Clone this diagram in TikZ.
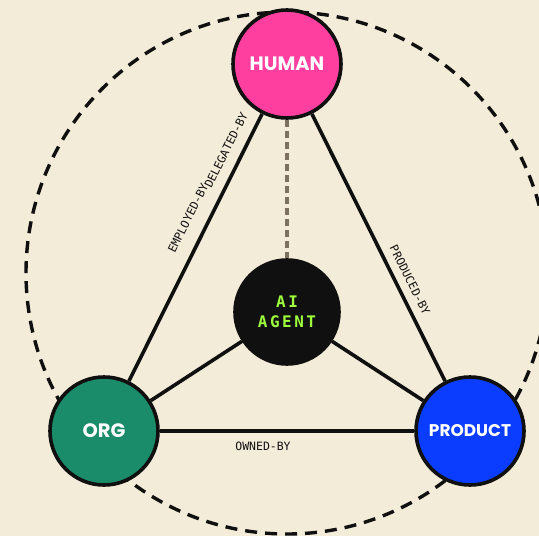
\documentclass[tikz,border=0pt]{standalone}
\usepackage{fontspec}
\setmainfont{DejaVu Sans}
\setmonofont{DejaVu Sans Mono}
\newfontfamily\headfont{Poppins}
\usetikzlibrary{calc}

\definecolor{paper}{HTML}{F3ECD9}
\definecolor{ink}{HTML}{111010}
\definecolor{humanpink}{HTML}{FF3FA0}
\definecolor{orggreen}{HTML}{1A8C69}
\definecolor{prodblue}{HTML}{0A3DFF}
\definecolor{agentlime}{HTML}{9DFC3C}
\definecolor{linkgray}{HTML}{7D7262}

\tikzset{
  entity/.style={circle, draw=ink, line width=3.6bp, minimum size=108bp, inner sep=0pt,
    text=white, font=\headfont\bfseries\fontsize{19.5}{20}\selectfont},
  link/.style={draw=ink, line width=3.6bp},
  edgelabel/.style={font=\ttfamily\fontsize{11.5}{13}\selectfont, text=ink}
}

\begin{document}
\begin{tikzpicture}[x=1bp, y=-1bp]
      % background
      \fill[paper] (0,0) rectangle (539,536);
      \useasboundingbox (0,0) rectangle (539,536);
      \clip (0,0) rectangle (539,536);
      % outer ring
      \draw[ink, line width=3.4bp, dash pattern=on 12bp off 8bp] (287,273) circle (261);
      % entities
      \node[entity, fill=humanpink] (human) at (287,64) {HUMAN};
      \node[entity, fill=orggreen] (org) at (104,431) {ORG};
      \node[entity, fill=prodblue, font=\headfont\bfseries\fontsize{17}{18}\selectfont] (product) at (470,431) {PRODUCT};
      \node[entity, fill=ink, minimum size=104bp, text=agentlime, align=center,
        font=\ttfamily\bfseries\fontsize{16}{20}\selectfont\addfontfeature{LetterSpace=16}] (agent) at (287,312) {AI\\AGENT};
      % triangle
      \draw[link] (human) -- (org);
      \draw[link] (human) -- (product);
      \draw[link] (org) -- (product);
      % spokes to the agent
      \draw[link] (org) -- (agent);
      \draw[link] (product) -- (agent);
      \draw[linkgray, line width=3.6bp, dash pattern=on 7bp off 4bp] (human) -- (agent);
      % labels on edges
      \node[edgelabel, rotate=63.5] (employed) at (188,218) {EMPLOYED-BY};
      \node[edgelabel, rotate=63.5] (delegated) at (226,150) {DELEGATED-BY};
      \node[edgelabel, rotate=-63.5] (produced) at (410,280) {PRODUCED-BY};
      \node[edgelabel] (owned) at (263,446) {OWNED-BY};
    \end{tikzpicture}
\end{document}
